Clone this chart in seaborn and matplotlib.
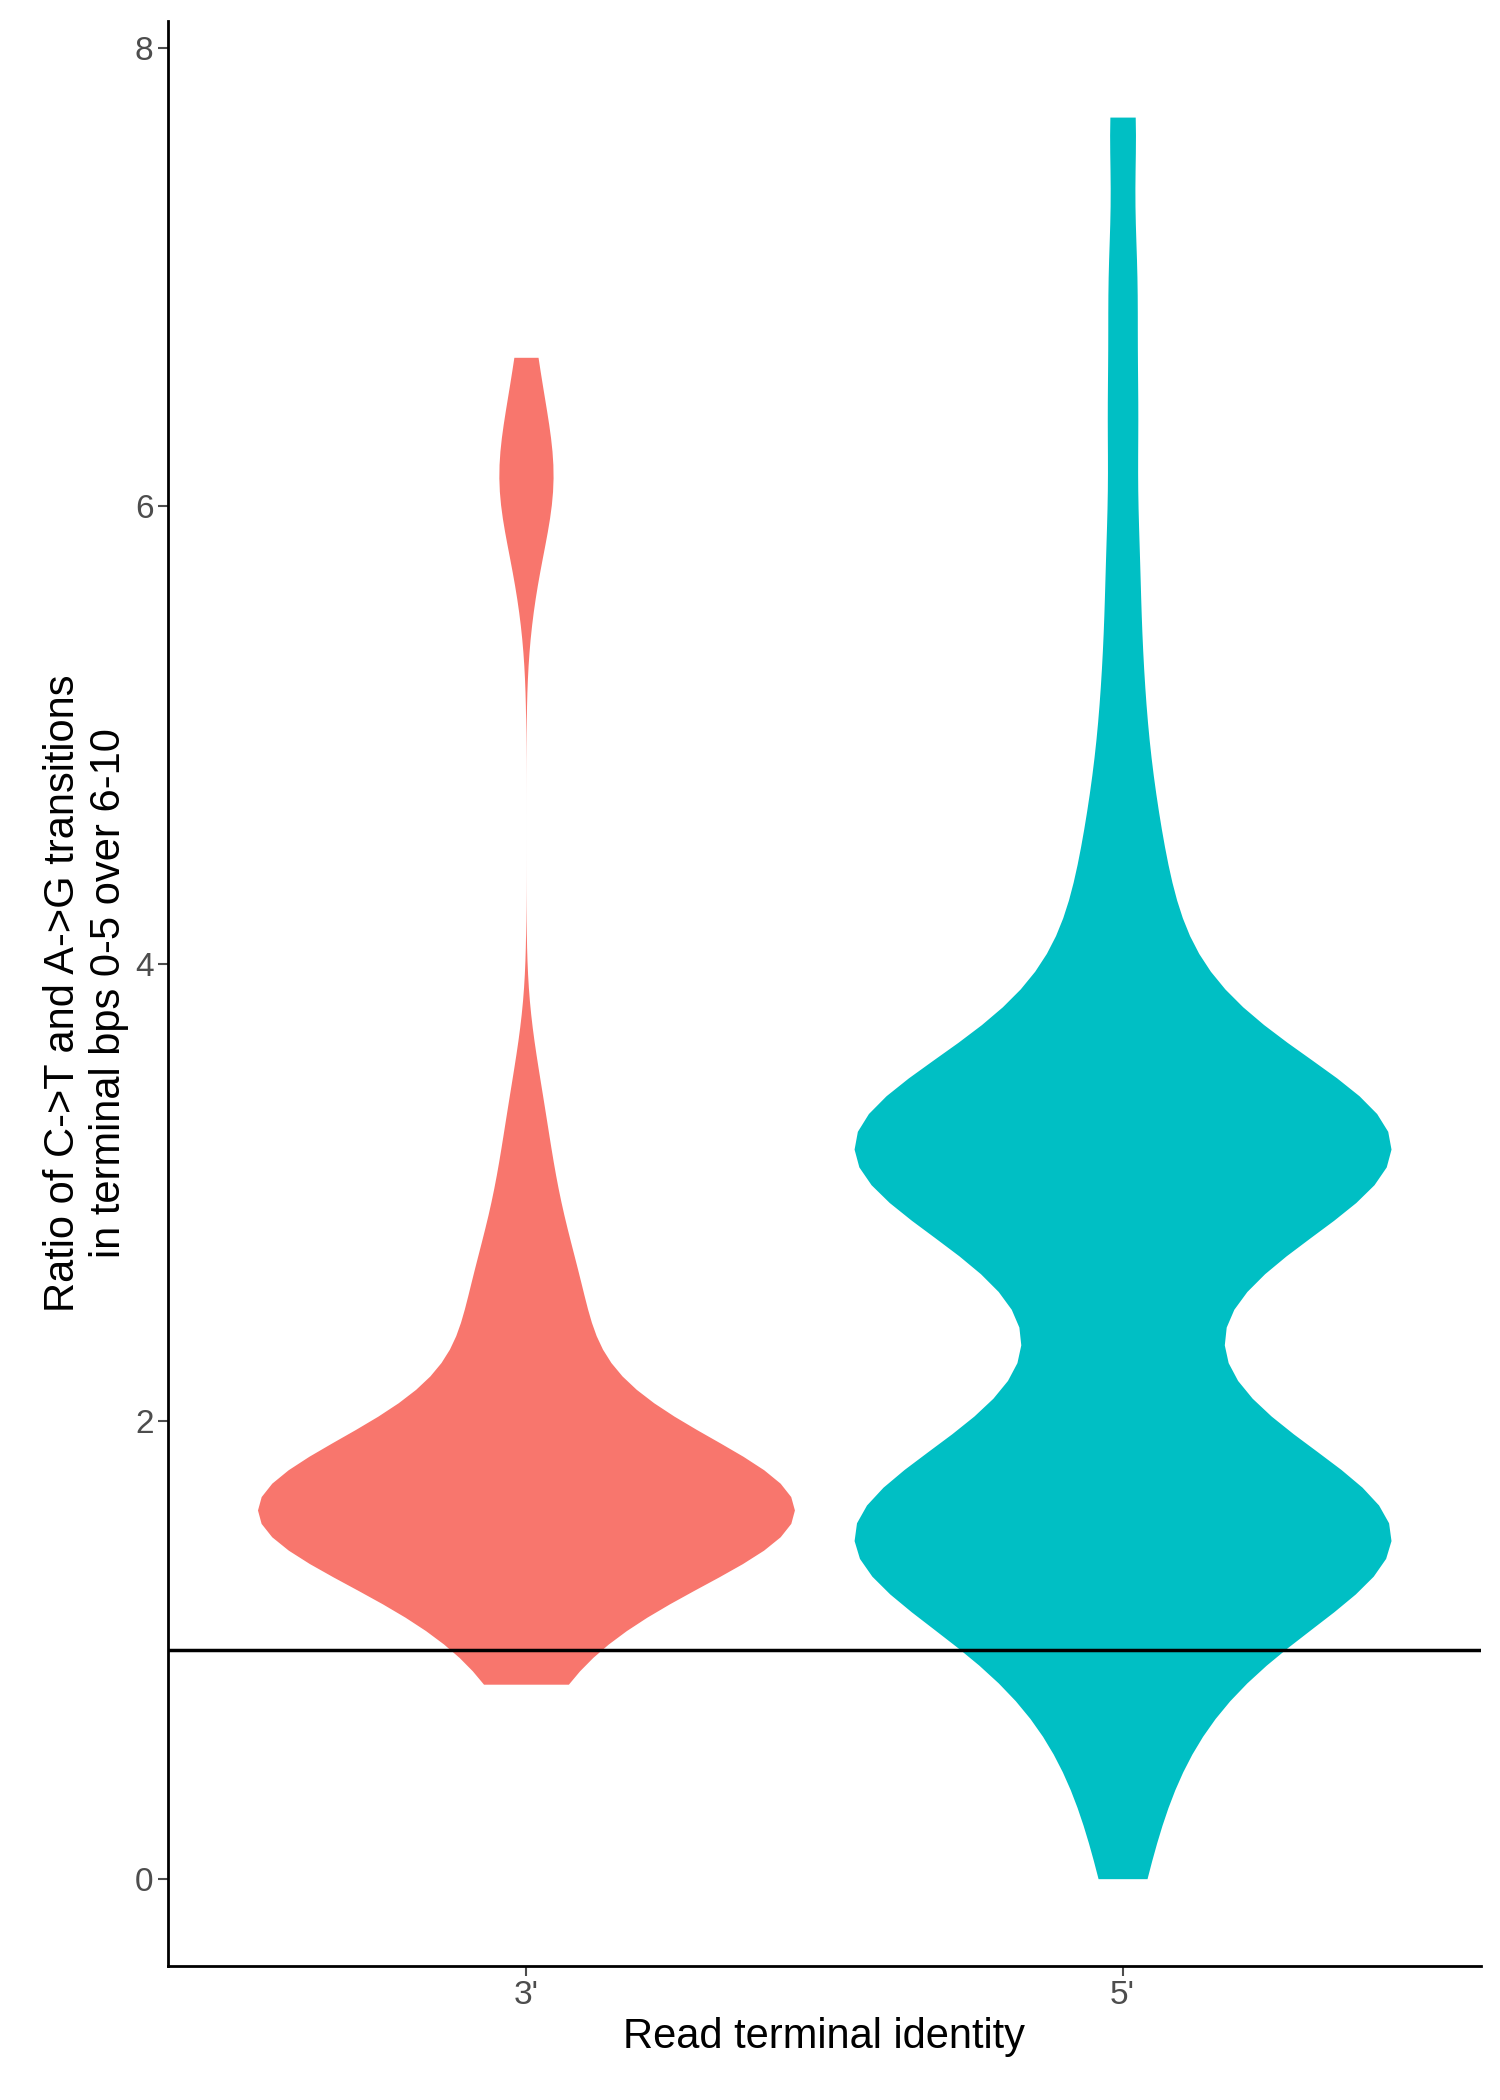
import pandas as pd
import numpy as np
import matplotlib.pyplot as plt
import seaborn as sns

groups=["3'","5'"]
colors=["#F8766D","#00BFC4"]
# observed ratio values and how often each occurs
v3=[0.85,0.95,1.0,1.05,1.1,1.15,1.2,1.25,1.3,1.35,1.4,1.45,1.5,1.55,1.6,1.65,1.7,1.75,1.8,1.85,1.9,1.95,
    2.0,2.05,2.1,2.15,2.2,2.3,2.4,2.45,2.5,2.55,2.6,2.7,2.8,2.9,3.0,3.15,3.3,3.5,5.7,6.0,6.1,6.2,6.4,6.65]
n3=[1,1,1,1,1,1,1,1,2,2,3,4,5,6,7,6,5,4,3,3,2,2,
    1,1,1,1,1,1,1,1,2,1,1,1,1,1,1,1,1,1,1,1,2,1,1,1]
v5=[0.0,0.3,0.5,0.65,0.75,0.85,0.95,1.0,1.1,1.2,1.3,1.4,1.5,1.6,1.7,1.8,1.9,2.0,2.1,2.2,2.35,2.5,2.65,
    2.75,2.85,2.95,3.05,3.15,3.25,3.35,3.45,3.6,3.75,3.9,4.05,4.2,4.4,4.6,4.9,5.3,5.8,6.4,7.0,7.7]
n5=[1,1,1,1,1,1,1,1,2,2,3,4,5,4,3,2,2,1,1,1,1,1,1,
    2,2,3,3,4,5,4,3,2,2,1,1,1,1,1,1,1,1,1,1,1]

df=pd.DataFrame({"end":[groups[0]]*sum(n3)+[groups[1]]*sum(n5),
                 "ratio":list(np.repeat(v3,n3))+list(np.repeat(v5,n5))})

sns.set_style("ticks")
plt.rcParams["font.family"]=["Arial","Liberation Sans","DejaVu Sans"]
fig=plt.figure(figsize=(15,21),dpi=100)
ax=fig.add_axes([0.112,0.064,0.875,0.926])
sns.violinplot(data=df,x="end",y="ratio",hue="end",palette=colors,order=groups,
               cut=0,inner=None,width=0.9,linewidth=0,bw_adjust=0.5,saturation=1,
               density_norm="area",legend=False,ax=ax)
ax.axhline(1,color="black",lw=2.5)
ax.set_xlim(-0.6,1.6)
ax.set_ylim(-0.38,8.12)
ax.set_yticks([0,2,4,6,8])
ax.tick_params(labelsize=24,colors="#4d4d4d",length=7,width=1.5)
sns.despine(ax=ax)
for s in ["left","bottom"]:
    ax.spines[s].set_linewidth(2)
    ax.spines[s].set_color("black")
ax.set_xlabel("Read terminal identity",fontsize=30,color="black")
ax.set_ylabel("Ratio of C->T and A->G transitions\nin terminal bps 0-5 over 6-10",fontsize=30,color="black")
fig.savefig("out.png")
